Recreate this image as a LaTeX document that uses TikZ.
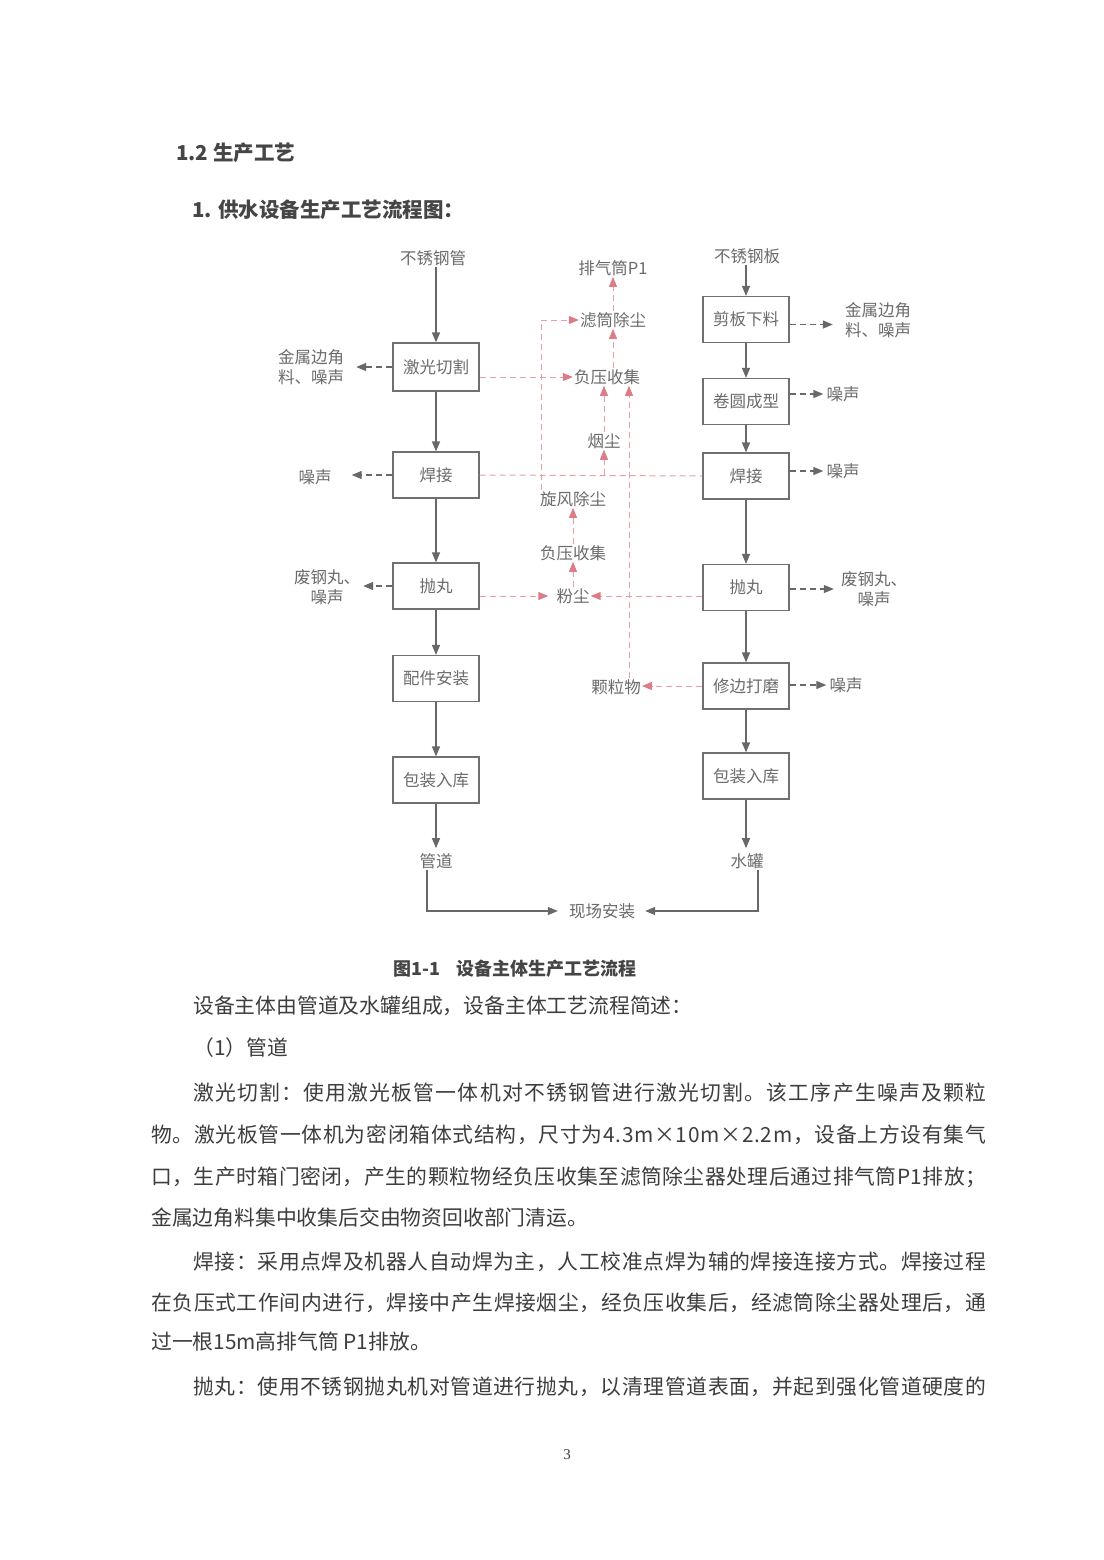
\documentclass[tikz,border=0pt]{standalone}
\usepackage{fontspec}
\setmainfont{Noto Sans CJK SC}
\newfontfamily\pagenumfont{Liberation Serif}
\usetikzlibrary{arrows.meta}
\definecolor{dtext}{HTML}{6B6B6B}
\definecolor{boxc}{HTML}{707070}
\definecolor{arrc}{HTML}{686868}
\definecolor{redl}{HTML}{E6A0A6}
\definecolor{redh}{HTML}{DC7C86}
\definecolor{btext}{HTML}{3D3D3D}
\definecolor{htext}{HTML}{454545}
\newcommand\dgmfont{\fontsize{16.5pt}{20pt}\selectfont}
\newcommand\bodyfnt{\fontsize{20.8pt}{24pt}\selectfont}
\newcommand\headfnt{\fontsize{20.5pt}{24pt}\selectfont\bfseries}
\newcommand\capfnt{\fontsize{18pt}{22pt}\selectfont\bfseries}
\def\spreadloop#1{\ifx\relax#1\unskip\else#1\hskip0pt plus 1pt\expandafter\spreadloop\fi}
\newcommand\jline[2]{\hbox to #1{\spreadloop#2\relax}}
\tikzset{
  procbox/.style={draw=boxc, line width=1.2pt, minimum width=86pt, minimum height=46pt, inner sep=0pt, text=dtext, font=\dgmfont},
  lbl/.style={text=dtext, font=\dgmfont, inner sep=1pt, align=center},
  flow/.style={draw=arrc, line width=1.3pt, -{Triangle[length=10pt,width=8pt]}},
  gout/.style={flow, dash pattern=on 6pt off 4pt},
  rline/.style={draw=redl, line width=1pt, dash pattern=on 6pt off 4pt},
  rarr/.style={rline, -{Triangle[length=10pt,width=8pt,fill=redh,color=redh]}},
  bline/.style={anchor=west, inner sep=0pt, text=btext, font=\bodyfnt},
}
\begin{document}
\begin{tikzpicture}[x=1pt,y=-1pt]
\useasboundingbox (0,0) rectangle (1103,1560);
\fill[white] (0,0) rectangle (1103,1560);

% headings
\node[anchor=west, inner sep=0pt, text=htext, font=\headfnt] (h1) at (176,153) {1.2 生产工艺};
\node[anchor=west, inner sep=0pt, text=htext, font=\headfnt] (h2) at (192,210) {1. 供水设备生产工艺流程图：};

% left column
\node[lbl] (srcL) at (433,258) {不锈钢管};
\node[procbox, minimum height=48pt] (cut) at (436,367) {激光切割};
\node[procbox] (weldL) at (436,475) {焊接};
\node[procbox] (blastL) at (436,586) {抛丸};
\node[procbox] (fit) at (436,678.5) {配件安装};
\node[procbox] (packL) at (436,780) {包装入库};
\node[lbl] (guan) at (436,861) {管道};

% right column
\node[lbl] (srcR) at (747,256) {不锈钢板};
\node[procbox] (shear) at (746,319.5) {剪板下料};
\node[procbox] (roll) at (746,401.5) {卷圆成型};
\node[procbox] (weldR) at (746,476) {焊接};
\node[procbox] (blastR) at (746,587.5) {抛丸};
\node[procbox] (trim) at (746,686) {修边打磨};
\node[procbox] (packR) at (746,776) {包装入库};
\node[lbl] (shui) at (747,861) {水罐};

\node[lbl] (site) at (602,911) {现场安装};

% side outputs
\node[lbl] (scrapL) at (311,367) {金属边角\\料、噪声};
\node[lbl] (noiseL) at (315,477) {噪声};
\node[lbl] (shotL) at (327,587) {废钢丸、\\噪声};
\node[lbl] (scrapR) at (878,320) {金属边角\\料、噪声};
\node[lbl] (noiseR1) at (843,394) {噪声};
\node[lbl] (noiseR2) at (843,471) {噪声};
\node[lbl] (shotR) at (874,589) {废钢丸、\\噪声};
\node[lbl] (noiseR3) at (846,685) {噪声};

% middle (treatment)
\node[lbl] (p1) at (613,268) {排气筒P1};
\node[lbl] (filt) at (613,320) {滤筒除尘};
\node[lbl] (negA) at (607,377) {负压收集};
\node[lbl] (smoke) at (604,441) {烟尘};
\node[lbl] (cyc) at (573,499) {旋风除尘};
\node[lbl] (negB) at (573,553) {负压收集};
\node[lbl] (dust) at (573,596) {粉尘};
\node[lbl] (part) at (616,687) {颗粒物};
\coordinate (vx) at (629,0);
\coordinate (lx) at (541,0);

% main flows
\draw[flow] (srcL.south -| cut.north) -- (cut.north);
\draw[flow] (cut) -- (weldL);
\draw[flow] (weldL) -- (blastL);
\draw[flow] (blastL) -- (fit);
\draw[flow] (fit) -- (packL);
\draw[flow, shorten >=4pt] (packL) -- (guan);
\draw[flow] (srcR.south -| shear.north) -- (shear.north);
\draw[flow] (shear) -- (roll);
\draw[flow] (roll) -- (weldR);
\draw[flow] (weldR) -- (blastR);
\draw[flow] (blastR) -- (trim);
\draw[flow] (trim) -- (packR);
\draw[flow, shorten >=4pt] (packR.south) -- (packR.south |- shui.north);
\draw[flow, shorten >=10pt] ([xshift=-9pt]guan.south) |- (site.west);
\draw[flow, shorten >=9pt] ([xshift=11pt]shui.south) |- (site.east);

% gray side outputs
\draw[gout, shorten >=11pt] (cut.west |- scrapL.east) -- (scrapL.east);
\draw[gout, shorten >=19pt] (weldL.west) -- (weldL.west -| noiseL.east);
\draw[gout, shorten >=2pt] (blastL.west) -- (blastL.west -| shotL.east);
\draw[gout, shorten >=11pt] ([yshift=-5pt]shear.east) -- ([yshift=-5pt]shear.east -| scrapR.west);
\draw[gout, shorten >=2pt] (roll.east |- noiseR1.west) -- (noiseR1.west);
\draw[gout, shorten >=2pt] (weldR.east |- noiseR2.west) -- (noiseR2.west);
\draw[gout, shorten >=6pt] (blastR.east |- shotR.west) -- (shotR.west);
\draw[gout, shorten >=2pt] (trim.east |- noiseR3.west) -- (noiseR3.west);

% red treatment lines
\draw[rarr] (filt.north) -- (p1.south);
\draw[rarr] (filt.south |- negA.north) -- (filt.south);
\draw[rarr] (smoke.north) -- (smoke.north |- negA.south);
\draw[rarr] (part.north -| vx) -- (negA.south -| vx);
\draw[rline] (weldL.east) -- (weldR.west);
\draw[rarr] (smoke.south |- weldL.east) -- (smoke.south);
\draw[rarr] (cut.east |- negA.west) -- (negA.west);
\draw[rarr] (cyc.north -| lx) |- (filt.west);
\draw[rarr] (negB.north) -- (negB.north |- cyc.south);
\draw[rarr] (dust.north) -- (dust.north |- negB.south);
\draw[rarr, shorten >=7pt] (blastL.east |- dust.west) -- (dust.west);
\draw[rarr] (blastR.west |- dust.east) -- (dust.east);
\draw[rarr] (trim.west) -- (trim.west -| part.east);

% caption
\node[inner sep=0pt, text=htext, font=\capfnt] (cap) at (515,969) {图1-1\hspace{0.9em}设备主体生产工艺流程};

% body text
\node[bline] (t0) at (193,1006) {设备主体由管道及水罐组成，设备主体工艺流程简述：};
\node[bline] (t1) at (193,1048) {（1）管道};
\node[bline] (t2) at (193,1093) {\jline{793pt}{激光切割：使用激光板管一体机对不锈钢管进行激光切割。该工序产生噪声及颗粒}};
\node[bline] (t3) at (151,1135) {\jline{835pt}{物。激光板管一体机为密闭箱体式结构，尺寸为4.3m×10m×2.2m，设备上方设有集气}};
\node[bline] (t4) at (151,1177) {\jline{835pt}{口，生产时箱门密闭，产生的颗粒物经负压收集至滤筒除尘器处理后通过排气筒P1排放；}};
\node[bline] (t5) at (151,1218) {金属边角料集中收集后交由物资回收部门清运。};
\node[bline] (t6) at (193,1262) {\jline{793pt}{焊接：采用点焊及机器人自动焊为主，人工校准点焊为辅的焊接连接方式。焊接过程}};
\node[bline] (t7) at (151,1303) {\jline{835pt}{在负压式工作间内进行，焊接中产生焊接烟尘，经负压收集后，经滤筒除尘器处理后，通}};
\node[bline] (t8) at (151,1342) {过一根15m高排气筒 P1排放。};
\node[bline] (t9) at (193,1387) {\jline{793pt}{抛丸：使用不锈钢抛丸机对管道进行抛丸，以清理管道表面，并起到强化管道硬度的}};

\node[inner sep=0pt, text=btext, font=\pagenumfont\fontsize{15pt}{17pt}\selectfont] (pg) at (567,1455) {3};
\end{tikzpicture}
\end{document}
